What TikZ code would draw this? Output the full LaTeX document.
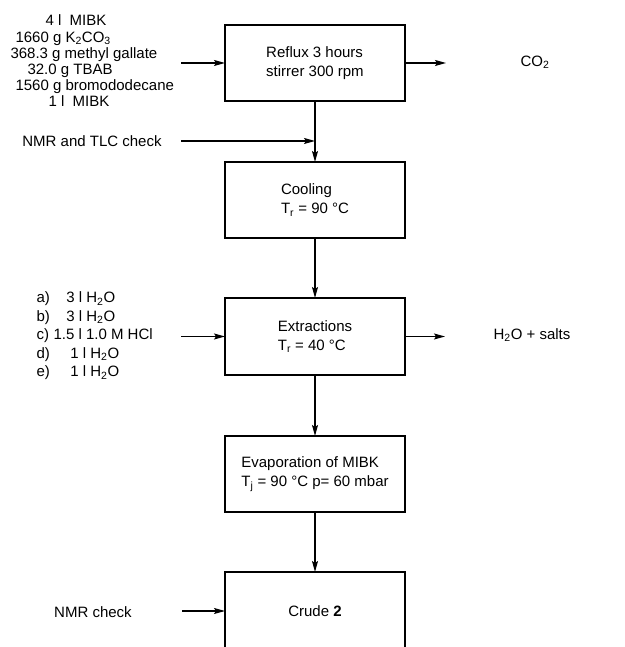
\documentclass[tikz,border=0pt]{standalone}
\usepackage{fontspec}
\setmainfont{Liberation Sans}
\usetikzlibrary{positioning, arrows.meta}
\newcommand{\fs}{\fontsize{15}{19}\selectfont}
\tikzset{
    base/.style={draw, rectangle, line width=1.3pt, outer sep=0pt, minimum width=180pt, minimum height=76pt, align=left, font=\fs},
    arrow/.style={-{Stealth[length=11pt, width=6pt, inset=2pt]}, line width=1.2pt},
    lbl/.style={align=left, font=\fs}
}

\begin{document}
\begin{tikzpicture}[x=1pt, y=1pt]
\useasboundingbox (0,0) rectangle (624,647);
\node[base] (reflux) at (315,584) {Reflux 3 hours\\stirrer 300 rpm};
\node[base, below=61pt of reflux] (cool) {Cooling\\T\textsubscript{r} = 90 °C};
\node[base, below=60pt of cool, minimum height=77pt] (extr) {Extractions\\T\textsubscript{r} = 40 °C};
\node[base, below=61pt of extr] (evap) {Evaporation of MIBK\\T\textsubscript{j} = 90 °C p= 60 mbar};
\node[base, below=60pt of evap, minimum height=78pt] (crude) {Crude \textbf{2}};
% inputs on the left
\node[lbl, anchor=west, font=\fontsize{15}{16.2}\selectfont] (feed) at (7,586) {%
\hspace*{35pt}4 l\ \ MIBK\\
\hspace*{5pt}1660 g K\textsubscript{2}CO\textsubscript{3}\\
368.3 g methyl gallate\\
\hspace*{17pt}32.0 g TBAB\\
\hspace*{5pt}1560 g bromododecane\\
\hspace*{38pt}1 l\ \ MIBK};
\node[lbl] (tlc) at (92,506) {NMR and TLC check};
\node[lbl, anchor=west, font=\fontsize{15}{18.5}\selectfont] (wash) at (33,311) {%
a)\hspace{16.5pt}3 l H\textsubscript{2}O\\
b)\hspace{16.5pt}3 l H\textsubscript{2}O\\
c)\hspace{4.5pt}1.5 l 1.0 M HCl\\
d)\hspace{20.5pt}1 l H\textsubscript{2}O\\
e)\hspace{20.5pt}1 l H\textsubscript{2}O};
\node[lbl] (nmr) at (93,35) {NMR check};
% outputs on the right
\node[lbl] (co2) at (535,585) {CO\textsubscript{2}};
\node[lbl] (salts) at (532,312) {H\textsubscript{2}O + salts};
\coordinate[left=44pt of reflux.west] (feedin);
\coordinate (tlcin) at (181,506);
\coordinate (tlcend) at (reflux.south |- tlcin);
\coordinate[left=44pt of extr.west] (washin);
\coordinate[left=43pt of crude.west] (nmrin);
\coordinate[right=41pt of reflux.east] (co2out);
\coordinate[right=40pt of extr.east] (saltsout);
\draw[arrow] (feedin) -- (reflux);
\draw[arrow] (tlcin) -- (tlcend);
\draw[arrow] (reflux) -- (cool);
\draw[arrow] (cool) -- (extr);
\draw[arrow] (washin) -- (extr);
\draw[arrow] (extr) -- (evap);
\draw[arrow] (evap) -- (crude);
\draw[arrow] (nmrin) -- (crude);
\draw[arrow] (reflux) -- (co2out);
\draw[arrow] (extr) -- (saltsout);
\end{tikzpicture}
\end{document}
